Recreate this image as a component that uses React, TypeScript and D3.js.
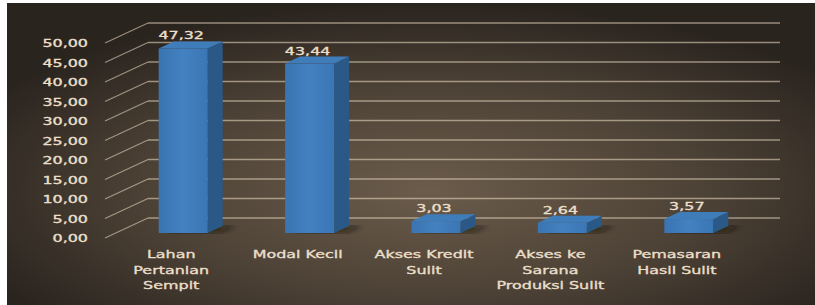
import { useEffect, useRef } from "react";
import * as d3 from "d3";

const CATEGORIES = [
  ["Lahan", "Pertanian", "Sempit"],
  ["Modal Kecil"],
  ["Akses Kredit", "Sulit"],
  ["Akses ke", "Sarana", "Produksi Sulit"],
  ["Pemasaran", "Hasil Sulit"],
];
const VALUES = [47.32, 43.44, 3.03, 2.64, 3.57];
const TICKS = [0, 5, 10, 15, 20, 25, 30, 35, 40, 45, 50];

const W = 815;
const H = 305;
const TEXT = "#eadfca";
const GRID = "rgba(225,210,185,0.6)";

export default function App() {
  const svgRef = useRef<SVGSVGElement>(null);

  useEffect(() => {
    document.body.style.margin = "0";
    const svg = d3.select(svgRef.current).attr("width", W).attr("height", H);
    svg.selectAll("*").remove();

    const fmt = (v: number) => v.toFixed(2).replace(".", ",");
    const names = CATEGORIES.map((c) => c.join(" "));

    /* wall depth and bar depth */
    const wallDx = 43;
    const wallDy = -20;
    const barDx = 15;
    const barDy = -7;
    const frontDx = 15;
    const frontDy = -5;
    const barW = 49;

    const x = d3.scaleBand().domain(names).range([105, 737]);
    const y = d3.scaleLinear().domain([0, 50]).range([238, 43]);

    /* background */
    const defs = svg.append("defs");
    const bg = defs.append("radialGradient").attr("id", "bg")
      .attr("cx", "52%").attr("cy", "62%").attr("r", "62%");
    bg.append("stop").attr("offset", "0%").attr("stop-color", "#6b5c4b");
    bg.append("stop").attr("offset", "55%").attr("stop-color", "#4d4236");
    bg.append("stop").attr("offset", "100%").attr("stop-color", "#2a241f");
    const front = defs.append("linearGradient").attr("id", "front")
      .attr("x1", "0").attr("x2", "1").attr("y1", "0").attr("y2", "0");
    front.append("stop").attr("offset", "0%").attr("stop-color", "#3a74b1");
    front.append("stop").attr("offset", "50%").attr("stop-color", "#4381c1");
    front.append("stop").attr("offset", "100%").attr("stop-color", "#3b76b4");
    defs.append("filter").attr("id", "blur")
      .append("feGaussianBlur").attr("stdDeviation", 2.5);

    svg.append("rect").attr("width", W).attr("height", H).attr("fill", "#ffffff");
    svg.append("rect").attr("x", 7).attr("y", 3).attr("width", W - 7).attr("height", H - 3)
      .attr("fill", "url(#bg)");

    /* grid: diagonal + back wall */
    const grid = svg.append("g").attr("stroke", GRID).attr("stroke-width", 1.3);
    TICKS.forEach((t) => {
      grid.append("line")
        .attr("x1", 105).attr("y1", y(t))
        .attr("x2", 105 + wallDx).attr("y2", y(t) + wallDy);
      grid.append("line")
        .attr("x1", 105 + wallDx).attr("y1", y(t) + wallDy)
        .attr("x2", 737 + wallDx).attr("y2", y(t) + wallDy);
    });

    // text is drawn a bit wider than the font, like the original
    const stretched = (sel: any, tx: number, ty: number) =>
      sel.attr("transform", `translate(${tx},${ty}) scale(1.45,1)`)
        .attr("stroke", TEXT).attr("stroke-width", 0.35);

    /* Y-axis labels */
    const yl = svg.append("g").attr("font-family", "DejaVu Sans").attr("font-size", 11)
      .attr("fill", TEXT).attr("text-anchor", "end");
    TICKS.forEach((t) => {
      stretched(yl.append("text").text(fmt(t)), 88, y(t) + 4);
    });

    /* bars */
    const bars = svg.append("g");
    VALUES.forEach((v, i) => {
      const x0 = (x(names[i]) as number) + x.bandwidth() / 2 - barW / 2 + frontDx;
      const x1 = x0 + barW;
      const yb = y(0) + frontDy;
      const yt = y(v) + frontDy;
      // floor shadow
      bars.append("polygon")
        .attr("points", [[x0 + 6, yb], [x1 + 12, yb], [x1 + barDx + 14, yb + barDy], [x0 + barDx + 6, yb + barDy]].join(" "))
        .attr("fill", "rgba(20,15,10,0.55)").attr("filter", "url(#blur)");
      // side
      bars.append("polygon")
        .attr("points", [[x1, yt], [x1 + barDx, yt + barDy], [x1 + barDx, yb + barDy], [x1, yb]].join(" "))
        .attr("fill", "#2a5887");
      // top
      bars.append("polygon")
        .attr("points", [[x0, yt], [x0 + barDx, yt + barDy], [x1 + barDx, yt + barDy], [x1, yt]].join(" "))
        .attr("fill", "#3f7cba");
      // front
      bars.append("rect")
        .attr("x", x0).attr("y", yt).attr("width", barW).attr("height", yb - yt)
        .attr("fill", "url(#front)");
      // value label
      const vl = bars.append("text").text(fmt(v))
        .attr("font-family", "DejaVu Sans").attr("font-size", 11)
        .attr("fill", TEXT).attr("text-anchor", "middle");
      stretched(vl, x0 + barW / 2 - 2, yt + barDy - 2);
    });

    /* X-axis labels */
    const xl = svg.append("g").attr("font-family", "DejaVu Sans").attr("font-size", 11)
      .attr("fill", TEXT).attr("text-anchor", "middle");
    CATEGORIES.forEach((lines, i) => {
      const cx = (x(names[i]) as number) + x.bandwidth() / 2 + 3;
      lines.forEach((ln, j) => {
        stretched(xl.append("text").text(ln), cx, 258 + j * 15.5);
      });
    });
  }, []);

  return <svg ref={svgRef}></svg>;
}
